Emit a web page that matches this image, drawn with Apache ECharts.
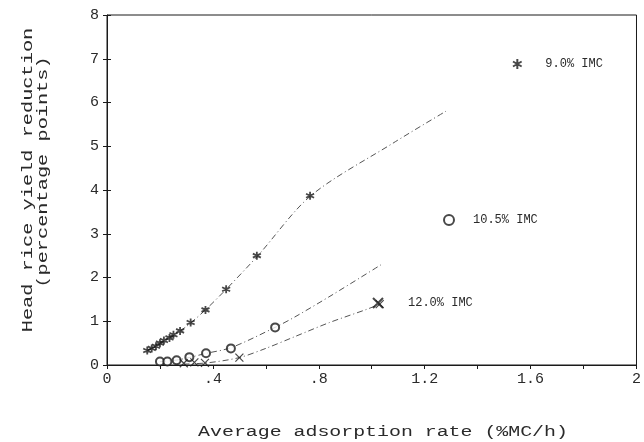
<!DOCTYPE html>
<html><head><meta charset="utf-8">
<script src="https://cdn.jsdelivr.net/npm/echarts@6/dist/echarts.min.js"></script>
<style>html,body{margin:0;padding:0;background:#fff}#c{width:644px;height:442px}</style>
</head><body><div id="c"></div>
<script>
// ---- data ----
const xLabelValues = [0, 0.4, 0.8, 1.2, 1.6, 2];
const xLabelTexts  = ['0', '.4', '.8', '1.2', '1.6', '2'];
const yTickLabels  = ['0','1','2','3','4','5','6','7','8'];

const seriesNames = ['9.0% IMC', '10.5% IMC', '12.0% IMC'];

const obs90X = [0.152,0.169,0.185,0.200,0.215,0.236,0.251,0.276,0.316,0.372,0.450,0.566,0.767];
const obs90Y = [0.33,0.38,0.43,0.50,0.56,0.62,0.69,0.78,0.97,1.26,1.73,2.50,3.87];
const fit90X = [0.15,0.20,0.25,0.30,0.37,0.45,0.57,0.77,1.08,1.28];
const fit90Y = [0.32,0.49,0.67,0.88,1.25,1.73,2.50,3.87,5.07,5.80];

const obs105X = [0.200,0.228,0.263,0.311,0.374,0.468,0.635];
const obs105Y = [0.08,0.08,0.11,0.18,0.27,0.38,0.86];
const fit105X = [0.20,0.26,0.31,0.37,0.47,0.635,0.71,0.85,1.04];
const fit105Y = [0.08,0.11,0.17,0.26,0.40,0.86,1.10,1.60,2.31];

const obs120X = [0.29,0.33,0.37,0.50,1.03];
const obs120Y = [0.04,0.06,0.05,0.17,1.39];
const fit120X = [0.29,0.38,0.50,0.60,0.71,0.84,0.98,1.03];
const fit120Y = [0.02,0.05,0.17,0.38,0.65,0.97,1.27,1.39];

// ---- helpers ----
const zip = (xs, ys) => xs.map((x, i) => [x, ys[i]]);
const FONT = '"Liberation Mono", "DejaVu Sans Mono", monospace';
const INK = '#1a1a1a';
const TXT = '#2a2a2a';
const STAR = 'path://M5,0 L5,10 M0.67,2.5 L9.33,7.5 M0.67,7.5 L9.33,2.5 M3.5,3.5 L6.5,6.5 M6.5,3.5 L3.5,6.5';
const CROSS = 'path://M0,0 L10,10 M10,0 L0,10';
const dashDot = { color: '#555', width: 1, type: [6, 3, 1, 3] };

function fitLine(xs, ys) {
  return { type: 'line', data: zip(xs, ys), smooth: 0.3, symbol: 'none',
           lineStyle: dashDot, silent: true, z: 2 };
}

const chart = echarts.init(document.getElementById('c'), null, { renderer: 'canvas' });

const baseX = { type: 'value', min: 0, max: 2, interval: 0.2, splitLine: { show: false } };
const baseY = { type: 'value', min: 0, max: 8, interval: 1, splitLine: { show: false } };

chart.setOption({
  animation: false,
  backgroundColor: '#fff',
  grid: { left: 107, right: 7, top: 15, bottom: 77, show: true, borderColor: INK, borderWidth: 1 },
  xAxis: [
    Object.assign({}, baseX, {
      axisLine: { lineStyle: { color: INK, width: 1 } },
      axisTick: { show: true, inside: false, length: 4, lineStyle: { color: INK } },
      axisLabel: {
        margin: 7, color: TXT, fontFamily: FONT, fontSize: 15,
        formatter: v => {
          const i = xLabelValues.findIndex(t => Math.abs(t - v) < 1e-6);
          return i >= 0 ? xLabelTexts[i] : '';
        }
      }
    }),
    Object.assign({}, baseX, {
      axisLine: { show: false },
      axisTick: { show: true, inside: true, length: 4, lineStyle: { color: INK } },
      axisLabel: { show: false }
    })
  ],
  yAxis: [
    Object.assign({}, baseY, {
      axisLine: { show: true, lineStyle: { color: INK, width: 1 } },
      axisTick: { show: true, inside: false, length: 4, lineStyle: { color: INK } },
      axisLabel: { margin: 8, color: TXT, fontFamily: FONT, fontSize: 15,
                   formatter: v => yTickLabels[Math.round(v)] }
    }),
    Object.assign({}, baseY, {
      position: 'left',
      axisLine: { show: false },
      axisTick: { show: true, inside: true, length: 4, lineStyle: { color: INK } },
      axisLabel: { show: false }
    })
  ],
  legend: [
    { data: [seriesNames[0]], left: 512, top: 58, padding: 0, itemWidth: 10, itemHeight: 10,
      selectedMode: false, textStyle: { fontFamily: FONT, fontSize: 12, color: TXT, padding: [0, 0, 0, 18] } },
    { data: [seriesNames[1]], left: 443, top: 214, padding: 0, itemWidth: 10, itemHeight: 10,
      selectedMode: false, textStyle: { fontFamily: FONT, fontSize: 12, color: TXT, padding: [0, 0, 0, 14] } },
    { data: [seriesNames[2]], left: 372, top: 297, padding: 0, itemWidth: 10, itemHeight: 10,
      selectedMode: false, textStyle: { fontFamily: FONT, fontSize: 12, color: TXT, padding: [0, 0, 0, 20] } }
  ],
  graphic: [
    { type: 'text', x: 383, y: 432, scaleX: 1.42,
      style: { text: 'Average adsorption rate (%MC/h)', fontFamily: FONT, fontSize: 14, fill: TXT,
               align: 'center', verticalAlign: 'middle' } },
    { type: 'text', x: 28, y: 180, rotation: Math.PI / 2, scaleX: 1.45,
      style: { text: 'Head rice yield reduction', fontFamily: FONT, fontSize: 14, fill: TXT,
               align: 'center', verticalAlign: 'middle' } },
    { type: 'text', x: 43, y: 172, rotation: Math.PI / 2, scaleX: 1.45,
      style: { text: '(percentage points)', fontFamily: FONT, fontSize: 14, fill: TXT,
               align: 'center', verticalAlign: 'middle' } }
  ],
  series: [
    fitLine(fit90X, fit90Y),
    fitLine(fit105X, fit105Y),
    fitLine(fit120X, fit120Y),
    { name: seriesNames[0], type: 'scatter', data: zip(obs90X, obs90Y), symbol: STAR, symbolSize: 8,
      itemStyle: { color: INK, borderColor: INK, borderWidth: 1.8 }, z: 5 },
    { name: seriesNames[1], type: 'scatter', data: zip(obs105X, obs105Y), symbol: 'emptyCircle', symbolSize: 8,
      itemStyle: { color: INK, borderColor: INK, borderWidth: 1.1 }, z: 5 },
    { name: seriesNames[2], type: 'scatter', data: zip(obs120X, obs120Y), symbol: CROSS, symbolSize: 8,
      itemStyle: { color: INK, borderColor: INK, borderWidth: 1.2 }, z: 5 }
  ]
});
</script></body></html>
